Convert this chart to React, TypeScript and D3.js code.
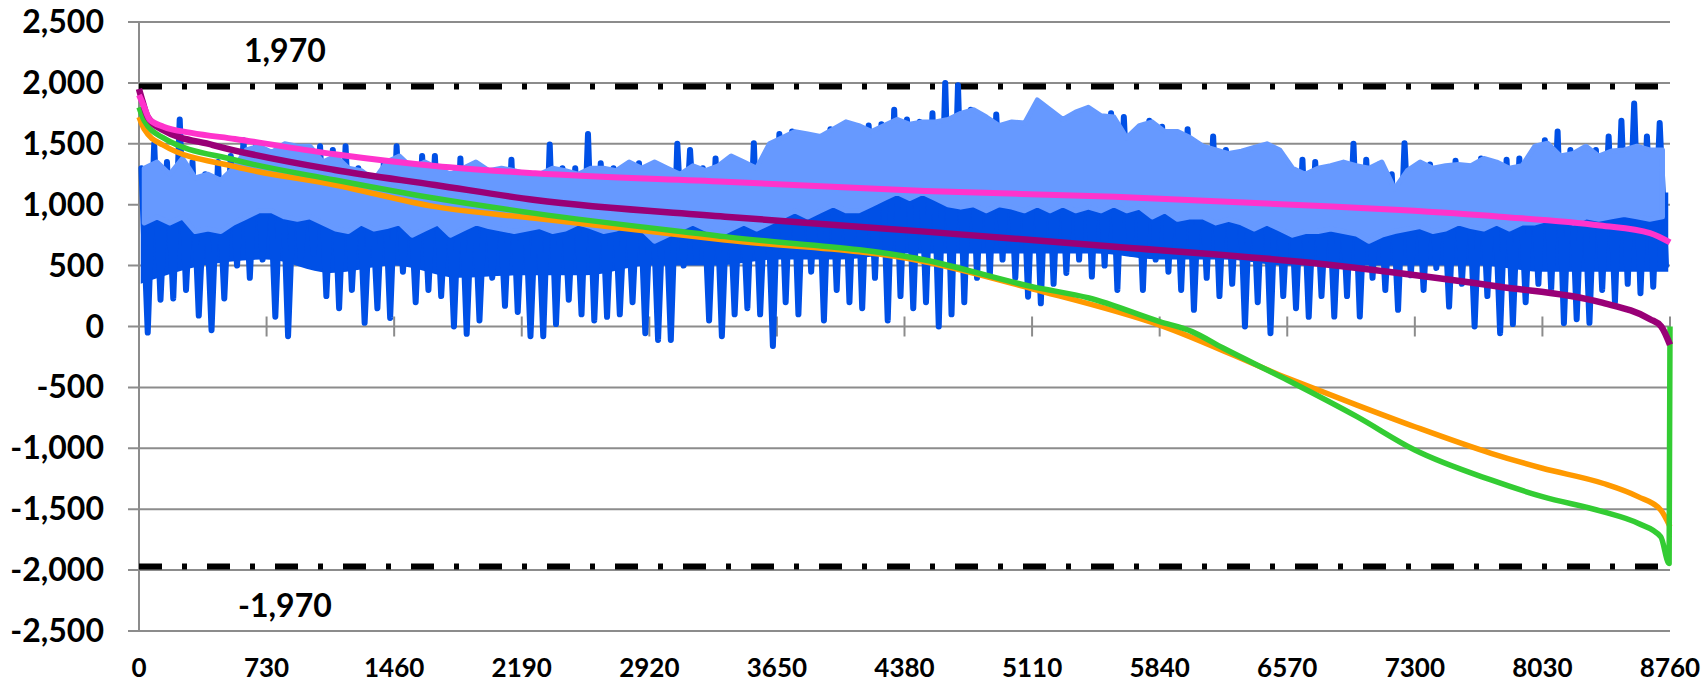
import * as d3 from 'd3';

// ── Data ──────────────────────────────────────────────────────────────────
const HOURS = 8760;
const BUCKET = 73; // hours per envelope bucket of the two hourly series
const FLOOR_STEP = 365; // hours between readings of the dark series' solid floor
const xTicks = [0, 730, 1460, 2190, 2920, 3650, 4380, 5110, 5840, 6570, 7300, 8030, 8760];
const yTicks = [2500, 2000, 1500, 1000, 500, 0, -500, -1000, -1500, -2000, -2500];
const limit = 1970;

// dark blue hourly series, per-bucket low / high
const darkLo = [
  -50, 220, 230, 300, 90, -30, 230, 500, 400, 550, 80, -80, 550, 600, 250, 150, 300, 30, 150, 70, 450, 200, 300, 250, 0, -60, 50, 400, 170, 120, -80,
  -80, 20, 220, 100, 50, 80, 100, 200, -55, -110, -110, 500, 550, 50, -80, 100, 150, 100, -160, 200, 100, 450, 50, 300, 200, 150, 400, 50, 250, 150, 200,
  0, 100, 200, 400, 410, 550, 400, 245, 190, 350, 440, 550, 410, 500, 300, 600, 300, 550, 450, 300, 137, 400, 250, 350, 0, 200, -55, 250, 150, 80,
  250, 82, 250, 82, 400, 300, 137, 420, 300, 480, 164, 350, 0, 250, -55, 20, 200, 350, 300, 27, 60, 30, 300, 200, 350, 274, 327, 500
];
const darkHi = [
  1300, 1500, 1350, 1700, 1350, 1250, 1350, 1400, 1530, 1500, 1400, 1450, 1350, 1300, 1480, 1450, 1480, 1300, 1200, 1350, 1480, 1250, 1400, 1400, 1250, 1380, 1300, 1250, 1200, 1370, 1250,
  1250, 1495, 1300, 1300, 1580, 1340, 1300, 1250, 1340, 1280, 1300, 1500, 1450, 1300, 1380, 1350, 1330, 1505, 1350, 1580, 1600, 1550, 1500, 1620, 1650, 1640, 1650, 1660, 1780, 1700, 1680,
  1750, 2000, 1980, 1780, 1700, 1740, 1650, 1600, 1620, 1650, 1600, 1650, 1680, 1680, 1750, 1720, 1550, 1690, 1640, 1560, 1620, 1450, 1560, 1450, 1420, 1420, 1450, 1420, 1300, 1370,
  1350, 1300, 1330, 1500, 1370, 1330, 1250, 1505, 1300, 1330, 1280, 1360, 1300, 1380, 1300, 1370, 1380, 1400, 1530, 1600, 1450, 1400, 1450, 1560, 1690, 1830, 1560, 1670
];
// level down to which the dark series is (nearly) solid, every 365 h
const darkFloor = [350, 500, 550, 440, 500, 400, 420, 420, 500, 500, 550, 550, 600, 600, 600, 600, 550, 550, 500, 500, 500, 500, 450, 450, 450];

// light blue hourly series, per-bucket low / high
const lightLo = [
  850, 900, 850, 900, 780, 800, 780, 850, 900, 950, 950, 900, 880, 900, 850, 800, 780, 850, 800, 820, 850, 750, 800, 850, 750, 800, 850, 820, 800, 780, 800,
  820, 780, 800, 850, 820, 780, 800, 850, 800, 700, 750, 800, 850, 800, 750, 800, 850, 800, 850, 900, 950, 900, 950, 1000, 950, 950, 1000, 1050, 1100, 1050, 1100,
  1050, 1000, 980, 1000, 950, 1000, 980, 950, 1000, 950, 1000, 950, 980, 950, 1000, 950, 980, 900, 950, 880, 900, 900, 850, 880, 850, 800, 850, 800, 750, 780,
  780, 800, 780, 760, 700, 750, 780, 800, 820, 780, 800, 850, 820, 800, 850, 800, 850, 850, 880, 900, 850, 900, 880, 900, 920, 900, 880, 900
];
const lightHi = [
  1300, 1350, 1250, 1380, 1220, 1250, 1200, 1300, 1450, 1480, 1430, 1500, 1480, 1480, 1350, 1400, 1300, 1280, 1200, 1350, 1400, 1300, 1350, 1300, 1250, 1300, 1350, 1280, 1300, 1280, 1250,
  1250, 1300, 1280, 1250, 1300, 1300, 1280, 1350, 1300, 1350, 1300, 1250, 1320, 1280, 1320, 1400, 1350, 1300, 1500, 1550, 1600, 1580, 1560, 1620, 1680, 1650, 1600, 1650, 1700, 1660, 1680,
  1680, 1700, 1750, 1780, 1720, 1650, 1680, 1670, 1860, 1780, 1700, 1760, 1800, 1730, 1720, 1550, 1650, 1680, 1600, 1600, 1550, 1480, 1450, 1420, 1440, 1470, 1500, 1450, 1300, 1250,
  1300, 1320, 1350, 1320, 1300, 1350, 1130, 1280, 1350, 1300, 1320, 1330, 1320, 1380, 1350, 1300, 1320, 1480, 1505, 1400, 1420, 1480, 1400, 1440, 1450, 1480, 1450, 1450
];

// sorted duration curves
const orangeHours = [0, 30, 137, 549, 1121, 1694, 2266, 3353, 4497, 5110, 5840, 6570, 6969, 7300, 7736, 8030, 8375, 8577, 8707, 8760];
const orangeValues = [1720, 1620, 1490, 1312, 1162, 984, 888, 710, 532, 310, 12, -423, -645, -823, -1041, -1164, -1287, -1397, -1506, -1643];

const greenHours = [0, 30, 137, 549, 1121, 1694, 2266, 3353, 4497, 5110, 5436, 5840, 6025, 6203, 6570, 6969, 7300, 7736, 8030, 8375, 8577, 8707, 8755, 8760];
const greenValues = [1800, 1690, 1550, 1367, 1203, 1053, 929, 738, 546, 327, 234, 40, -42, -177, -439, -740, -1014, -1260, -1397, -1520, -1616, -1726, -1945, 0];

const purpleHours = [0, 20, 50, 137, 423, 1121, 1694, 2266, 3353, 4497, 5585, 6729, 7215, 7787, 8360, 8646, 8710, 8760];
const purpleValues = [1950, 1850, 1720, 1613, 1490, 1285, 1162, 1039, 902, 779, 655, 519, 437, 327, 200, 60, 0, -150];

const pinkHours = [0, 25, 60, 140, 300, 549, 1121, 1694, 2266, 3353, 4497, 5585, 6729, 7215, 7787, 8360, 8646, 8760];
const pinkValues = [1900, 1820, 1700, 1640, 1590, 1540, 1414, 1318, 1258, 1189, 1112, 1066, 992, 956, 902, 830, 767, 690];

// ── Helpers ────────────────────────────────────────────────────────────────
const fmt = d3.formatLocale({ decimal: '.', thousands: ',', grouping: [3], currency: ['', ''], minus: '-' }).format(',');

type Bucket = { h: number; lo: number; hi: number };
const buckets = (lo: number[], hi: number[], offset: number): Bucket[] => lo.map((v, i) => ({ h: i * BUCKET + offset, lo: v, hi: hi[i] }));

const zigzag = (a: number[], b: number[]): [number, number][] =>
  a.flatMap((v, i) => [
    [i * BUCKET + 14, v] as [number, number],
    [i * BUCKET + 50, b[i]] as [number, number]
  ]);

const zipPts = (hours: number[], values: number[]): [number, number][] => hours.map((h, i) => [h, values[i]]);

const FONT = 'Lato, "Open Sans", sans-serif';
const DARK = '#0050E6';
const LIGHT = '#6699FF';

export default function App() {
  const width = 1707;
  const height = 684;

  const x = d3.scaleLinear().domain([0, HOURS]).range([139, 1670]);
  const y = d3.scaleLinear().domain([-2500, 2500]).range([631, 22]);

  const band = d3
    .area<Bucket>()
    .x(d => x(d.h))
    .y0(d => y(d.lo))
    .y1(d => y(d.hi));

  const floorArea = d3
    .area<number>()
    .x((_, i) => x(Math.min(HOURS - 10, Math.max(10, i * FLOOR_STEP))))
    .y0(d => y(d))
    .y1(y(1100))
    .curve(d3.curveMonotoneX);

  const rough = d3
    .line<[number, number]>()
    .x(d => x(d[0]))
    .y(d => y(d[1]));

  const smooth = d3
    .line<[number, number]>()
    .x(d => x(d[0]))
    .y(d => y(d[1]))
    .curve(d3.curveMonotoneX);

  const light = buckets(lightLo, lightHi, 30);

  const curves = [
    { key: 'orange', color: '#FF9900', w: 5.5, pts: zipPts(orangeHours, orangeValues) },
    { key: 'green', color: '#33CC33', w: 5.5, pts: zipPts(greenHours, greenValues) },
    { key: 'purple', color: '#990077', w: 6.5, pts: zipPts(purpleHours, purpleValues) },
    { key: 'pink', color: '#FF33CC', w: 6, pts: zipPts(pinkHours, pinkValues) }
  ];

  return (
    <svg width={width} height={height} style={{ position: 'absolute', left: 0, top: 0, background: '#fff' }} fontFamily={FONT}>
      {/* grid */}
      {yTicks.map(t => (
        <line key={t} x1={128} x2={x(HOURS)} y1={y(t)} y2={y(t)} stroke="#8c8c8c" strokeWidth={2} />
      ))}
      <line x1={x(0)} x2={x(0)} y1={y(2500)} y2={y(-2500)} stroke="#8c8c8c" strokeWidth={2} />
      {xTicks.map(t => (
        <line key={t} x1={x(t)} x2={x(t)} y1={y(0) - 10} y2={y(0) + 10} stroke="#8c8c8c" strokeWidth={2} />
      ))}

      {/* limits */}
      {[limit, -limit].map(v => (
        <line key={v} x1={x(0)} x2={x(HOURS)} y1={y(v)} y2={y(v)} stroke="#000" strokeWidth={6} strokeDasharray="23 20 5 20" />
      ))}

      {/* hourly series: dark body + spikes, light band on top */}
      <path d={floorArea(darkFloor) ?? ''} fill={DARK} />
      <path d={rough(zigzag(darkHi, darkLo)) ?? ''} fill="none" stroke={DARK} strokeWidth={6} strokeLinejoin="round" strokeLinecap="round" />
      <path d={band(light) ?? ''} fill={LIGHT} stroke={LIGHT} strokeWidth={5} strokeLinejoin="round" />

      {/* duration curves */}
      {curves.map(c => (
        <path key={c.key} d={smooth(c.pts) ?? ''} fill="none" stroke={c.color} strokeWidth={c.w} strokeLinejoin="round" />
      ))}

      {/* annotations */}
      <text x={x(835)} y={y(limit) - 25} textAnchor="middle" fontSize={32} fontWeight={700} fill="#000">
        {fmt(limit)}
      </text>
      <text x={x(835)} y={y(-limit) + 51} textAnchor="middle" fontSize={32} fontWeight={700} fill="#000">
        {fmt(-limit)}
      </text>

      {/* axes labels */}
      {yTicks.map(t => (
        <text key={t} x={104} y={y(t) + 11} textAnchor="end" fontSize={32} fontWeight={700} fill="#000">
          {fmt(t)}
        </text>
      ))}
      {xTicks.map(t => (
        <text key={t} x={x(t)} y={677} textAnchor="middle" fontSize={26} fontWeight={700} fill="#000">
          {t}
        </text>
      ))}
    </svg>
  );
}
